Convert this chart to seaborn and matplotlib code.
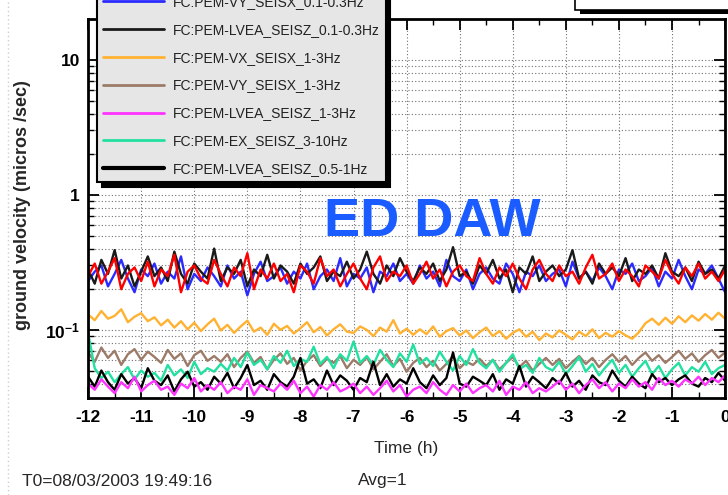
import numpy as np
import pandas as pd
import matplotlib
matplotlib.use('Agg')
import matplotlib.pyplot as plt
import seaborn as sns
from matplotlib.patches import Rectangle
from matplotlib.lines import Line2D
from matplotlib.ticker import FixedLocator, FixedFormatter, LogLocator, NullFormatter, MultipleLocator

sns.set_theme(style="ticks")
plt.rcParams['font.family'] = ['Liberation Sans', 'DejaVu Sans']
plt.rcParams['axes.unicode_minus'] = False

# ==========================================
# 数据 (单位: 0.001 micros/sec, 12小时, 每7.5分钟一个点)
# ==========================================
red = [250, 310, 220, 270, 340, 200, 260, 290, 230, 320,
       210, 280, 250, 360, 190, 270, 300, 240, 220, 330,
       260, 210, 290, 250, 370, 200, 280, 240, 310, 230,
       260, 190, 300, 270, 220, 340, 250, 280, 210, 260,
       310, 240, 200, 290, 350, 230, 270, 250, 300, 220,
       260, 320, 240, 280, 210, 270, 300, 250, 230, 340,
       260, 220, 290, 250, 310, 240, 200, 280, 330, 260,
       230, 300, 250, 270, 220, 290, 360, 240, 260, 310,
       230, 280, 250, 210, 300, 270, 240, 330, 260, 220,
       290, 250, 310, 240, 270, 230, 280]
blue = [230, 270, 300, 210, 260, 330, 240, 190, 280, 250,
        310, 220, 270, 240, 350, 200, 260, 230, 290, 250,
        210, 300, 240, 270, 180, 260, 320, 230, 250, 290,
        220, 270, 240, 310, 200, 250, 280, 230, 340, 210,
        260, 240, 290, 190, 270, 250, 310, 230, 260, 220,
        300, 240, 270, 210, 330, 250, 230, 280, 200, 260,
        290, 240, 220, 310, 260, 190, 270, 250, 300, 230,
        260, 280, 210, 320, 240, 270, 230, 290, 250, 200,
        280, 260, 310, 230, 250, 290, 210, 270, 240, 330,
        250, 200, 280, 260, 300, 240, 190]
black_top = [280, 220, 330, 260, 390, 240, 300, 210, 270, 350,
             250, 290, 230, 380, 260, 220, 310, 270, 240, 400,
             230, 290, 260, 330, 210, 280, 250, 360, 240, 300,
             270, 220, 310, 260, 290, 350, 230, 270, 250, 320,
             240, 280, 380, 260, 220, 300, 250, 340, 270, 230,
             290, 260, 310, 230, 280, 410, 250, 270, 220, 300,
             260, 330, 240, 280, 190, 290, 260, 350, 230, 270,
             300, 250, 280, 390, 240, 270, 220, 310, 260, 290,
             250, 340, 230, 280, 260, 300, 240, 370, 270, 250,
             290, 230, 320, 260, 280, 240, 300]
orange = [130, 118, 138, 121, 127, 142, 114, 125, 133, 116,
          124, 108, 119, 104, 116, 101, 113, 98, 110, 121,
          99, 109, 95, 106, 117, 97, 104, 92, 111, 100,
          107, 94, 103, 114, 96, 105, 91, 101, 110, 97,
          95, 106, 100, 90, 104, 97, 118, 94, 102, 92,
          101, 93, 106, 89, 98, 103, 91, 99, 87, 96,
          104, 90, 98, 86, 95, 101, 89, 97, 84, 94,
          88, 99, 92, 85, 97, 90, 101, 87, 95, 89,
          98, 91, 86, 96, 112, 121, 109, 123, 111, 126,
          114, 128, 117, 131, 119, 134, 121]
brown = [68, 58, 74, 62, 70, 55, 66, 72, 60, 69,
         63, 57, 71, 61, 67, 54, 65, 70, 59, 64,
         58, 66, 53, 62, 69, 57, 63, 51, 60, 67,
         56, 62, 50, 59, 65, 54, 61, 57, 64, 52,
         60, 55, 63, 51, 58, 66, 54, 61, 49, 57,
         62, 53, 59, 50, 56, 64, 52, 58, 55, 61,
         54, 60, 51, 57, 63, 53, 59, 50, 56, 62,
         55, 61, 52, 58, 64, 56, 62, 53, 60, 66,
         58, 64, 55, 62, 68, 59, 65, 57, 63, 70,
         61, 67, 58, 65, 71, 62, 68]
green = [95, 52, 44, 49, 41, 47, 53, 43, 50, 45,
         48, 42, 55, 46, 51, 44, 58, 47, 52, 49,
         56, 50, 62, 53, 68, 55, 60, 51, 64, 57,
         70, 54, 61, 58, 75, 56, 63, 52, 66, 59,
         82, 57, 64, 55, 71, 60, 53, 67, 58, 78,
         56, 62, 54, 69, 58, 50, 64, 55, 72, 57,
         52, 60, 49, 57, 66, 51, 55, 48, 62, 53,
         50, 58, 47, 54, 63, 49, 56, 46, 53, 60,
         48, 55, 45, 52, 59, 47, 54, 44, 51, 57,
         46, 53, 49, 58, 47, 52, 55]
black_low = [45, 38, 50, 41, 36, 47, 40, 44, 37, 52,
             42, 39, 46, 35, 43, 49, 38, 41, 36, 45,
             40, 48, 37, 44, 55, 39, 42, 36, 47, 41,
             38, 45, 62, 40, 43, 37, 50, 39, 46, 42,
             36, 44, 41, 58, 39, 47, 38, 43, 40, 52,
             41, 37, 46, 39, 44, 68, 40, 38, 45, 42,
             39, 47, 36, 43, 40, 54, 38, 45, 41, 37,
             44, 40, 48, 38, 42, 36, 46, 41, 39, 50,
             42, 38, 45, 40, 37, 47, 41, 44, 39, 43,
             46, 40, 38, 44, 41, 48, 42]
magenta = [40, 36, 43, 38, 34, 41, 37, 45, 35, 39,
           42, 36, 38, 33, 40, 37, 44, 35, 39, 36,
           41, 34, 38, 36, 43, 33, 39, 37, 35, 40,
           36, 42, 34, 38, 32, 39, 36, 41, 35, 37,
           40, 34, 38, 33, 37, 42, 35, 39, 32, 36,
           38, 34, 41, 36, 33, 39, 35, 40, 34, 37,
           39, 35, 42, 33, 38, 36, 41, 34, 37, 35,
           38, 42, 36, 40, 34, 39, 43, 37, 41, 35,
           40, 37, 43, 38, 41, 36, 44, 39, 42, 38,
           43, 40, 45, 39, 44, 41, 46]

# 通道名 (图例顺序, 第一个在图外被裁掉)
channels = ['FC:PEM-EX_SEISX_0.1-0.3Hz', 'FC:PEM-VY_SEISX_0.1-0.3Hz',
            'FC:PEM-LVEA_SEISZ_0.1-0.3Hz', 'FC:PEM-VX_SEISX_1-3Hz',
            'FC:PEM-VY_SEISX_1-3Hz', 'FC:PEM-LVEA_SEISZ_1-3Hz',
            'FC:PEM-EX_SEISZ_3-10Hz', 'FC:PEM-LVEA_SEISZ_0.5-1Hz']
series = [red, blue, black_top, orange, brown, magenta, green, black_low]
colors = ['#ff0000', '#2b2bff', '#1a1a1a', '#ffb232', '#9c7b68',
          '#ff33ff', '#22e0a0', '#000000']
draw_order = [1, 2, 0, 3, 4, 6, 7, 5]

y_ticks = [0.1, 1, 10]
y_ticklabels = [r'$\mathregular{10^{-1}}$', '1', '10']
x_ticks = list(range(-12, 1))

rows = []
for name, vals in zip(channels, series):
    t = np.linspace(-12, 0, len(vals))
    for ti, v in zip(t, vals):
        rows.append((name, ti, v / 1000.0))
df = pd.DataFrame(rows, columns=['channel', 'time', 'vel'])

# ==========================================
# 绘图
# ==========================================
fig = plt.figure(figsize=(7.28, 4.95), dpi=100)
ax = fig.add_axes([0.121, 0.196, 0.875, 0.7657])

hue_order = [channels[i] for i in draw_order]
pal = {channels[i]: colors[i] for i in range(len(channels))}
sns.lineplot(data=df, x='time', y='vel', hue='channel', hue_order=hue_order,
             palette=pal, estimator=None, sort=False, legend=False,
             linewidth=1.7, ax=ax)

ax.set_yscale('log')
ax.set_xlim(-12, 0)
ax.set_ylim(0.0313, 20.1)

# grid (dotted, ROOT style)
ax.yaxis.set_major_locator(FixedLocator(y_ticks))
ax.yaxis.set_major_formatter(FixedFormatter(y_ticklabels))
ax.yaxis.set_minor_locator(LogLocator(base=10, subs=np.arange(2, 10)))
ax.yaxis.set_minor_formatter(NullFormatter())
ax.xaxis.set_major_locator(FixedLocator(x_ticks))
ax.xaxis.set_minor_locator(MultipleLocator(0.5))
gkw = dict(color='#707070', linestyle=(0, (1, 2)), linewidth=0.8)
ax.grid(True, which='major', axis='x', **gkw)
ax.grid(True, which='both', axis='y', **gkw)
ax.set_axisbelow(True)

ax.tick_params(which='both', direction='in', top=True, right=True,
               colors='black', labelsize=12.5)
ax.tick_params(which='major', length=8, width=1.3)
ax.tick_params(which='minor', length=4, width=1)
ax.tick_params(axis='x', pad=9)
ax.tick_params(axis='y', pad=6)
for lbl in ax.get_xticklabels() + ax.get_yticklabels():
    lbl.set_fontweight('bold')
for sp in ax.spines.values():
    sp.set_linewidth(2)
    sp.set_color('black')

ax.set_xlabel('Time (h)', fontsize=12.5, labelpad=11)
ax.set_ylabel('ground velocity (micros /sec)', fontsize=13, fontweight='bold')
ax.yaxis.set_label_coords(-0.09, 0.51)

# 图例
handles = []
for i, name in enumerate(channels):
    lw = 3 if i == len(channels) - 1 else 2
    handles.append(Line2D([], [], color=colors[i], linewidth=lw))
leg = ax.legend(handles, channels, loc='lower left',
                bbox_to_anchor=(97 / 728, 1 - 182 / 495), bbox_transform=fig.transFigure,
                borderaxespad=0, fontsize=10, labelspacing=1.0, handlelength=4.4,
                handletextpad=0.65, borderpad=0.42, fancybox=False, framealpha=1,
                facecolor='#e6e6e6', edgecolor='black',
                shadow={'ox': 3.4, 'oy': -3.4, 'color': 'black', 'alpha': 1})
leg.get_frame().set_linewidth(1.5)
for txt in leg.get_texts():
    txt.set_color('#222222')

fig.text(432 / 728, 1 - 222 / 495, 'ED DAW', ha='center', va='center',
         fontsize=39, fontweight='bold', color='#1a5cff', zorder=6)

# 右上角的框 (被裁掉)
fig.patches.append(Rectangle((580 / 728, 1 - 14 / 495), 0.3, 0.1, transform=fig.transFigure,
                             facecolor='black', edgecolor='black', lw=0))
fig.patches.append(Rectangle((575 / 728, 1 - 10 / 495), 0.3, 0.1, transform=fig.transFigure,
                             facecolor='white', edgecolor='black', lw=1.2))
fig.lines.append(Line2D([8 / 728, 8 / 728], [0, 1], transform=fig.transFigure,
                        color='#cfcfcf', linestyle=(0, (1, 2)), lw=1))

fig.text(22 / 728, 1 - 481 / 495, 'T0=08/03/2003 19:49:16', fontsize=12.5,
         ha='left', va='center')
fig.text(358 / 728, 1 - 481 / 495, 'Avg=1', fontsize=12.5, ha='left', va='center')

fig.savefig('out.png', dpi=100)
